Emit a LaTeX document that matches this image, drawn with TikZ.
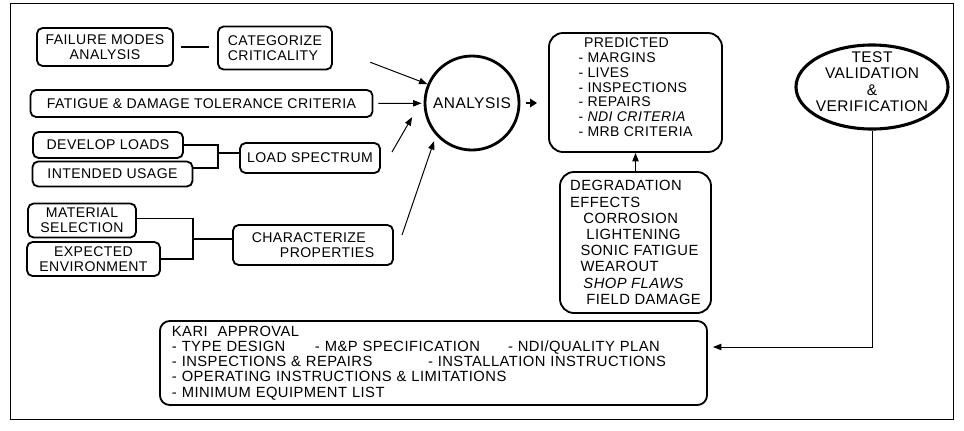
\documentclass[tikz,border=0pt]{standalone}
\usepackage{fontspec}
\setmainfont{Liberation Sans}[LetterSpace=3]
\usetikzlibrary{arrows.meta,shapes.geometric}
\tikzset{
  box/.style={draw, line width=1.3pt, rounded corners=4pt, align=center, inner sep=1pt},
  bigbox/.style={draw, line width=1.3pt, rounded corners=10pt, align=left, inner sep=1pt},
  link/.style={line width=1pt},
  feed/.style={line width=0.7pt, -{Triangle[length=6pt,width=4.5pt]}},
}
\begin{document}
\begin{tikzpicture}[x=0.025cm, y=-0.025cm, font=\fontsize{10}{10.5}\selectfont]
  \useasboundingbox (0,0) rectangle (964,430);
  \draw[line width=0.6pt] (10,3) rectangle (953,419);

  \node[box, minimum width=3.4cm, minimum height=0.95cm] (fmodes) at (105,47) {FAILURE MODES\\ANALYSIS};
  \node[box, align=left, minimum width=2.85cm, minimum height=1.075cm] (critic) at (275,48) {CATEGORIZE\\CRITICALITY};
  \node[box, minimum width=8.55cm, minimum height=0.675cm] (fatigue) at (201.5,103.5) {FATIGUE \& DAMAGE TOLERANCE CRITERIA};
  \node[box, minimum width=3.75cm, minimum height=0.65cm] (devload) at (108,145) {DEVELOP LOADS};
  \node[box, minimum width=4.0cm, minimum height=0.625cm] (usage) at (112.5,174) {INTENDED USAGE};
  \node[box, minimum width=3.5cm, minimum height=0.75cm] (spectrum) at (310,158) {LOAD SPECTRUM};
  \node[box, minimum width=2.7cm, minimum height=0.85cm] (material) at (82,220.5) {MATERIAL\\SELECTION};
  \node[box, minimum width=3.325cm, minimum height=0.85cm] (environ) at (93.5,259) {EXPECTED\\ENVIRONMENT};
  \node[box, align=left, minimum width=4.0cm, minimum height=1.0cm] (charact) at (313,245) {CHARACTERIZE\\\hspace*{2em}PROPERTIES};

  \node[circle, draw, line width=2pt, minimum size=2.35cm, inner sep=0pt, font=\fontsize{11}{11}\selectfont] (analysis) at (472,103) {ANALYSIS};

  \node[bigbox, minimum width=4.325cm, minimum height=2.975cm] (predicted) at (635.5,92.5)
    {\hspace*{0.4em}PREDICTED\\- MARGINS\\- LIVES\\- INSPECTIONS\\- REPAIRS\\- \textit{NDI CRITERIA}\\- MRB CRITERIA\\[-3pt]};
  \node[bigbox, minimum width=3.775cm, minimum height=3.525cm, font=\fontsize{10.5}{11.5}\selectfont] (degrad) at (635.5,242.5)
    {DEGRADATION\\EFFECTS\\\hspace*{0.9em}CORROSION\\\hspace*{1.1em}LIGHTENING\\\hspace*{0.7em}SONIC FATIGUE\\\hspace*{0.7em}WEAROUT\\\hspace*{0.9em}\textit{SHOP FLAWS}\\\hspace*{1.1em}FIELD DAMAGE};

  \node[ellipse, draw, line width=2.2pt, minimum width=3.8cm, minimum height=2.1cm, inner xsep=-0.25cm, inner ysep=-0.25cm,
        align=center, font=\fontsize{11}{11.8}\selectfont] (test) at (872,87)
    {TEST\\VALIDATION\\\&\\VERIFICATION\\[-4pt]};

  \node[draw, line width=1.3pt, rounded corners=7pt, align=left, inner xsep=0.3cm, inner ysep=0pt,
        text width=13.075cm, minimum height=2.1cm, font=\fontsize{10.5}{10.8}\selectfont] (kari) at (433.5,363)
    {KARI\ \ APPROVAL\\
     \makebox[3.575cm][l]{- TYPE DESIGN}\makebox[4.825cm][l]{- M\&P SPECIFICATION}- NDI/QUALITY PLAN\\
     \makebox[6.4cm][l]{- INSPECTIONS \& REPAIRS}- INSTALLATION INSTRUCTIONS\\
     - OPERATING INSTRUCTIONS \& LIMITATIONS\\
     - MINIMUM EQUIPMENT LIST};

  \coordinate (ls-bar) at (218,153);
  \coordinate (cp-bar) at (193,239);
  \coordinate (spec-out) at (392,152);
  \coordinate (char-out) at (402,235);

  \draw[line width=1.8pt, shorten <=0.175cm, shorten >=0.2cm] (fmodes.east) -- (fmodes.east -| critic.west);
  \draw[link] (devload.east) -| (ls-bar) |- ([yshift=0.15cm]usage.east);
  \draw[link] (ls-bar) -- (ls-bar -| spectrum.west);
  \draw[link] ([yshift=0.05cm]material.east) -| (cp-bar) |- (environ.east);
  \draw[link] (cp-bar) -- (cp-bar -| charact.west);

  \begin{scope}[feed]
    \draw[shorten <=1cm] (critic.east) to (analysis.157);
    \draw[shorten <=0.125cm, shorten >=0.05cm] (fatigue.east) to (analysis);
    \draw[shorten >=0.6cm] (spec-out) to (analysis.172);
    \draw[shorten >=0.15cm] (char-out) to (analysis.222);
    \draw (degrad.north) to (predicted.south);
    \draw[shorten >=3.5pt] (test.south) |- ([yshift=0.4cm]kari.east);
  \end{scope}
  \draw[line width=1.8pt, -{Triangle[length=5pt,width=6pt]}, shorten <=0.15cm, shorten >=0.275cm] (analysis.east) -- (analysis.east -| predicted.west);
\end{tikzpicture}
\end{document}
